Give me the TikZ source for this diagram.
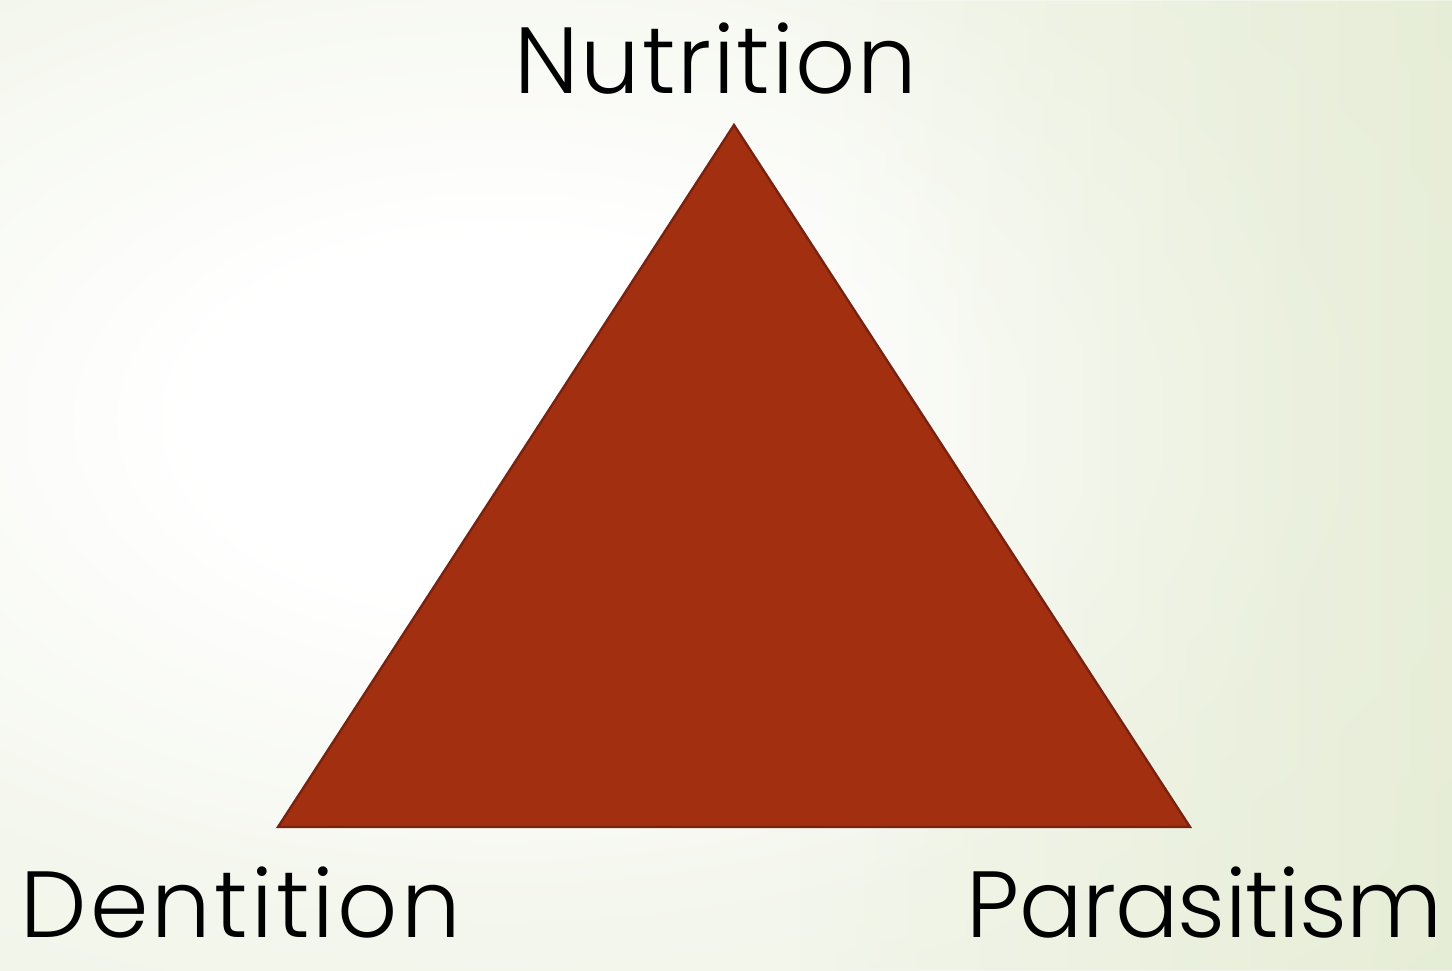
\documentclass[tikz,border=0pt]{standalone}
\usepackage{fontspec}
\usetikzlibrary{fadings}
\setmainfont{Poppins}[UprightFont=* Light]
\definecolor{bgA}{HTML}{F3F6EC}
\definecolor{bgB}{HTML}{EFF3E4}
\definecolor{bgC}{HTML}{EDF2E0}
\definecolor{bgD}{HTML}{EAF0DB}
\definecolor{bgE}{HTML}{E0E9CC}
\definecolor{trifill}{HTML}{A22F10}
\definecolor{triedge}{HTML}{7A2210}
\pgfdeclareradialshading{bgshade}{\pgfpoint{0bp}{0bp}}{%
  color(0bp)=(white); color(7bp)=(white); color(20bp)=(bgA);
  color(35bp)=(bgB); color(42bp)=(bgC); color(50bp)=(bgD);
  color(100bp)=(bgD)}
\tikzfading[name=fadeR, left color=transparent!100, right color=transparent!0]
\tikzset{
  label/.style={inner sep=0pt, font=\fontsize{47}{56}\selectfont, text=black},
}
\begin{document}
\begin{tikzpicture}[x=0.5pt,y=-0.5pt]
\useasboundingbox (0,0) rectangle (1452,970);
\begin{scope}
\clip (0,0) rectangle (1452,970);
\shade[shading=bgshade] (-600,-230) rectangle (1600,1070);
\fill[bgE, path fading=fadeR, fill opacity=0.65] (800,0) rectangle (1500,970);
\end{scope}
\coordinate (apex) at (734,125);
\coordinate (bl) at (278,827);
\coordinate (br) at (1190,827);
\filldraw[fill=trifill, draw=triedge, line width=1.2pt, line join=miter]
  (apex) -- (bl) -- (br) -- cycle;
\node[label, anchor=base] (nut) at (716,93) {\addfontfeatures{LetterSpace=2}Nutrition};
\node[label, anchor=base west] (den) at (20,937) {\addfontfeatures{LetterSpace=3.5}Dentition};
\node[label, anchor=base east] (par) at (1443,937) {\addfontfeatures{LetterSpace=-0.8}Parasitism};
\end{tikzpicture}
\end{document}
